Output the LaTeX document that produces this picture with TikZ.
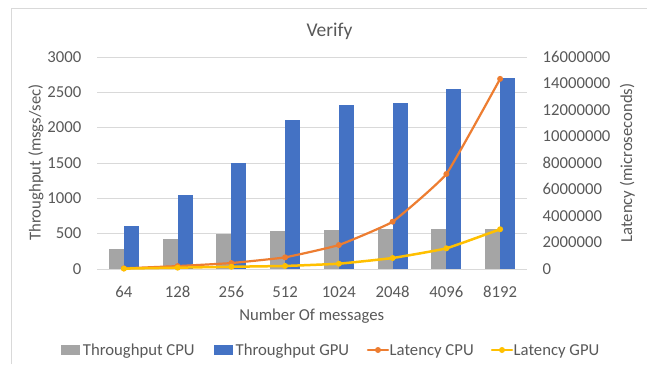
\documentclass[tikz,border=0pt]{standalone}
\usepackage{fontspec}
\usetikzlibrary{calc}
\setmainfont{Carlito}
\definecolor{framegray}{HTML}{D9D9D9}
\definecolor{gridgray}{HTML}{D9D9D9}
\definecolor{txtgray}{HTML}{595959}
\definecolor{cpubar}{HTML}{A5A5A5}
\definecolor{gpubar}{HTML}{4472C4}
\definecolor{cpulat}{HTML}{ED7D31}
\definecolor{gpulat}{HTML}{FFC000}
\begin{document}
\begin{tikzpicture}[x=1pt,y=-1pt,
  lbl/.style={font=\fontsize{16.7}{20}\selectfont, text=txtgray, inner sep=0pt},
  ttl/.style={font=\fontsize{19.5}{23}\selectfont, text=txtgray, inner sep=0pt},
  gridline/.style={draw=gridgray, line width=1pt},
  latline/.style={line width=2.2pt, line cap=round, line join=round},
  dot/.style={circle, inner sep=0pt, minimum size=6pt},
]
\useasboundingbox (0,0) rectangle (647,364);
\fill[white] (0,0) rectangle (647,364);

% chart frame (top and left edges)
\draw[draw=framegray, line width=1pt] (11,364) -- (11,8) -- (647,8);

% title
\node[ttl, anchor=base] (title) at (329.5,36) {Verify};

% horizontal gridlines and left tick labels (0..3000)
\foreach \v [count=\k] in {0,500,1000,1500,2000,2500,3000} {
  \pgfmathsetmacro{\yy}{269 - \v/3000*212}
  \draw[gridline] (97,\yy) -- (527,\yy);
  \node[lbl, anchor=base east] (lt\k) at (81.5,\yy+5.3) {\v};
}
% right tick labels (0..16000000)
\foreach \v [count=\k] in {0,2,4,6,8,10,12,14,16} {
  \pgfmathsetmacro{\yy}{269 - \v/16*212}
  \node[lbl, anchor=base west] (rt\k) at (542.5,\yy+5.3)
    {\ifnum\v=0 0\else\v000000\fi};
}

% bars
\foreach \c/\g [count=\i] in {282/607,428/1050,499/1493,537/2104,547/2316,561/2345,565/2542,567/2702} {
  \pgfmathsetmacro{\cx}{97 + 53.75*(\i-0.5)}
  \pgfmathsetmacro{\yc}{269 - \c/3000*212}
  \pgfmathsetmacro{\yg}{269 - \g/3000*212}
  \fill[cpubar] (\cx-15,269) rectangle (\cx,\yc);
  \fill[gpubar] (\cx,269) rectangle (\cx+15,\yg);
}

% category labels
\foreach \n [count=\i] in {64,128,256,512,1024,2048,4096,8192} {
  \pgfmathsetmacro{\cx}{97 + 53.75*(\i-0.5)}
  \node[lbl, anchor=base] (cat\i) at (\cx,297) {\n};
}

% latency points (millions of microseconds)
\foreach \a/\b [count=\i] in {0.05/0.03,0.22/0.10,0.45/0.17,0.88/0.23,1.81/0.40,3.57/0.83,7.17/1.56,14.35/3.0} {
  \pgfmathsetmacro{\cx}{97 + 53.75*(\i-0.5)}
  \pgfmathsetmacro{\ya}{269 - \a/16*212}
  \pgfmathsetmacro{\yb}{269 - \b/16*212}
  \coordinate (lc\i) at (\cx,\ya);
  \coordinate (lg\i) at (\cx,\yb);
}
\draw[latline, cpulat] plot[smooth, tension=0.2] coordinates {(lc1) (lc2) (lc3) (lc4) (lc5) (lc6) (lc7) (lc8)};
\foreach \i in {1,...,8} \node[dot, fill=cpulat] (mc\i) at (lc\i) {};
\draw[latline, gpulat, line width=2.5pt] plot[smooth, tension=0.2] coordinates {(lg1) (lg2) (lg3) (lg4) (lg5) (lg6) (lg7) (lg8)};
\foreach \i in {1,...,8} \node[dot, fill=gpulat] (mg\i) at (lg\i) {};

% axis titles
\node[lbl, anchor=base, rotate=90] (ylab) at (40.5,162.5) {Throughput (msgs/sec)};
\node[lbl, anchor=base, rotate=90] (y2lab) at (632,163) {Latency (microseconds)};
\node[lbl, anchor=base] (xlab) at (311.7,320.7) {Number Of messages};

% legend
\fill[cpubar] (61,345) rectangle (79.5,354.5);
\node[lbl, anchor=base west] (legA) at (82.7,355) {Throughput CPU};
\fill[gpubar] (214,345) rectangle (232.5,354.5);
\node[lbl, anchor=base west] (legB) at (235.5,355) {Throughput GPU};
\coordinate (lcA) at (368,350);
\coordinate (lcB) at (388,350);
\draw[latline, cpulat] (lcA) -- (lcB);
\node[dot, fill=cpulat] (legCdot) at ($(lcA)!0.5!(lcB)$) {};
\node[lbl, anchor=base west] (legC) at (389.5,355) {Latency CPU};
\coordinate (lgA) at (492,350);
\coordinate (lgB) at (512,350);
\draw[latline, gpulat, line width=2.5pt] (lgA) -- (lgB);
\node[dot, fill=gpulat] (legDdot) at ($(lgA)!0.5!(lgB)$) {};
\node[lbl, anchor=base west] (legD) at (513.5,355) {Latency GPU};
\end{tikzpicture}
\end{document}
